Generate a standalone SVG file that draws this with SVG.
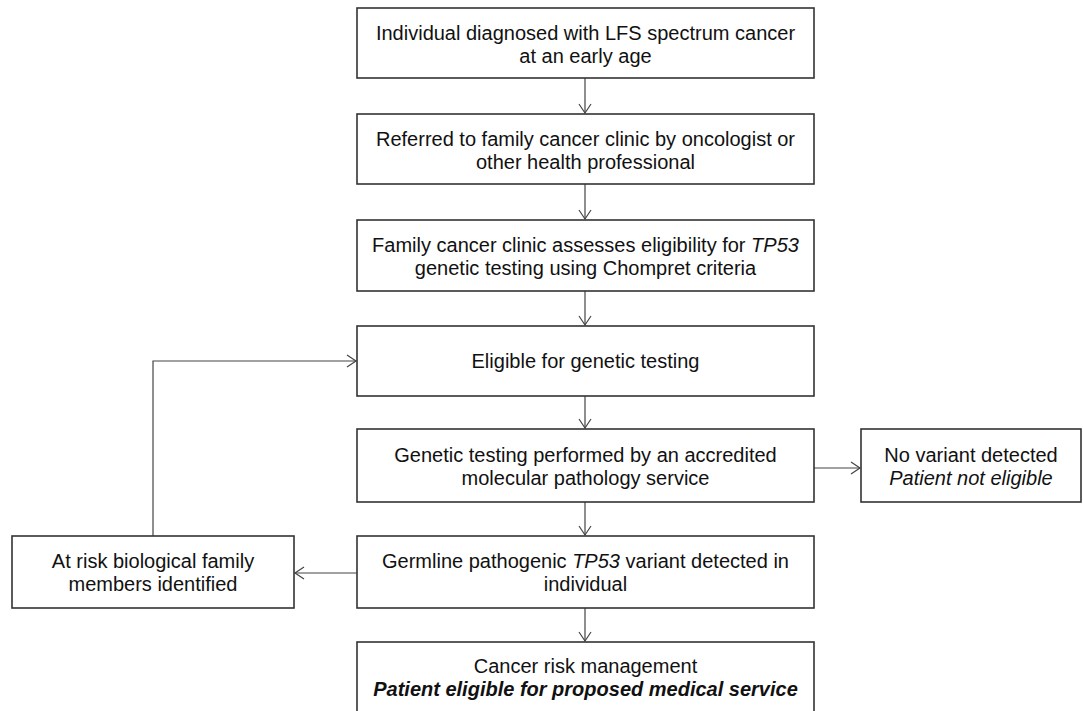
<svg xmlns="http://www.w3.org/2000/svg" width="1083" height="711" viewBox="0 0 1083 711">
<defs>
<style>
.box{fill:#fff;stroke:#333;stroke-width:1.6}
.t{font-family:"Liberation Sans",Arial,sans-serif;font-size:20px;fill:#111;text-anchor:middle}
.c{fill:none;stroke:#444;stroke-width:1.2}
</style>
<marker id="ah" markerWidth="12" markerHeight="14" refX="10" refY="7" orient="auto" markerUnits="userSpaceOnUse">
<path d="M1,1 L10,7 L1,13" fill="none" stroke="#444" stroke-width="1.2"/>
</marker>
</defs>
<rect width="1083" height="711" fill="#fff"/>
<g id="connectors">
<line class="c" x1="585" y1="78" x2="585" y2="113" marker-end="url(#ah)"/>
<line class="c" x1="585" y1="184" x2="585" y2="219" marker-end="url(#ah)"/>
<line class="c" x1="585" y1="291" x2="585" y2="325" marker-end="url(#ah)"/>
<line class="c" x1="585" y1="396" x2="585" y2="428" marker-end="url(#ah)"/>
<line class="c" x1="585" y1="502" x2="585" y2="535" marker-end="url(#ah)"/>
<line class="c" x1="585" y1="608" x2="585" y2="641" marker-end="url(#ah)"/>
<line class="c" x1="814" y1="468" x2="860" y2="468" marker-end="url(#ah)"/>
<line class="c" x1="357" y1="573" x2="295" y2="573" marker-end="url(#ah)"/>
<polyline class="c" points="153,536 153,361 356,361" marker-end="url(#ah)"/>
</g>
<g id="n1">
<rect class="box" x="357" y="8" width="457" height="70"/>
<text class="t" x="585.5" y="40">Individual diagnosed with LFS spectrum cancer</text>
<text class="t" x="585.5" y="63">at an early age</text>
</g>
<g id="n2">
<rect class="box" x="357" y="114" width="457" height="70"/>
<text class="t" x="585.5" y="146">Referred to family cancer clinic by oncologist or</text>
<text class="t" x="585.5" y="169">other health professional</text>
</g>
<g id="n3">
<rect class="box" x="357" y="220" width="457" height="71"/>
<text class="t" x="585.5" y="252">Family cancer clinic assesses eligibility for <tspan font-style="italic">TP53</tspan></text>
<text class="t" x="585.5" y="275">genetic testing using Chompret criteria</text>
</g>
<g id="n4">
<rect class="box" x="357" y="326" width="457" height="70"/>
<text class="t" x="585.5" y="368">Eligible for genetic testing</text>
</g>
<g id="n5">
<rect class="box" x="357" y="429" width="457" height="73"/>
<text class="t" x="585.5" y="462">Genetic testing performed by an accredited</text>
<text class="t" x="585.5" y="485">molecular pathology service</text>
</g>
<g id="n6">
<rect class="box" x="861" y="429" width="220" height="73"/>
<text class="t" x="971" y="462">No variant detected</text>
<text class="t" x="971" y="485" font-style="italic">Patient not eligible</text>
</g>
<g id="n7">
<rect class="box" x="357" y="536" width="457" height="72"/>
<text class="t" x="585.5" y="568">Germline pathogenic <tspan font-style="italic">TP53</tspan> variant detected in</text>
<text class="t" x="585.5" y="591">individual</text>
</g>
<g id="n8">
<rect class="box" x="12" y="536" width="282" height="72"/>
<text class="t" x="153" y="568">At risk biological family</text>
<text class="t" x="153" y="591">members identified</text>
</g>
<g id="n9">
<rect class="box" x="357" y="642" width="457" height="75"/>
<text class="t" x="585.5" y="673">Cancer risk management</text>
<text class="t" x="585.5" y="696" font-style="italic" font-weight="bold">Patient eligible for proposed medical service</text>
</g>
</svg>
